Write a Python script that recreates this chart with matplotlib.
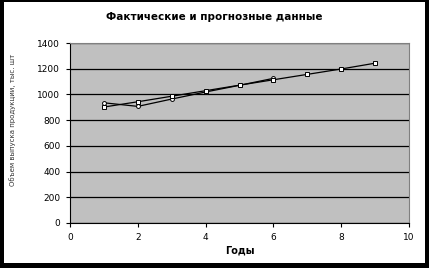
import matplotlib.pyplot as plt
from matplotlib.patches import Rectangle

# data
years_fact = [1, 2, 3, 4, 5, 6]
fact = [935, 907, 964, 1019, 1071, 1125]
years_fc = [1, 2, 3, 4, 5, 6, 7, 8, 9]
forecast = [902, 943, 986, 1029, 1072, 1114, 1156, 1198, 1243]
yticks = [0, 200, 400, 600, 800, 1000, 1200, 1400]
xticks = [0, 2, 4, 6, 8, 10]

W, H = 429, 268
fig = plt.figure(figsize=(W / 100, H / 100), dpi=100)
fig.patch.set_facecolor('black')
# white chart area inside the black frame
fig.patches.append(Rectangle((4 / W, 5 / H), 421 / W, 261 / H, transform=fig.transFigure,
                             facecolor='white', edgecolor='none', zorder=-5))

ax = fig.add_axes([70 / W, 1 - 223 / H, 339 / W, 180 / H])
ax.set_zorder(1)
ax.set_facecolor('#c0c0c0')
ax.set_axisbelow(True)
ax.yaxis.grid(True, color='black', lw=0.9)

ax.plot(years_fact, fact, '-', color='black', lw=0.9, marker='o', ms=2.8,
        mfc='white', mec='black', mew=0.7, zorder=3)
ax.plot(years_fc, forecast, '-', color='black', lw=0.9, marker='s', ms=2.6,
        mfc='white', mec='black', mew=0.7, zorder=3)

ax.set_xlim(0, 10)
ax.set_ylim(0, 1400)
ax.set_xticks(xticks)
ax.set_yticks(yticks)
ax.tick_params(labelsize=6.5, length=3, width=0.8, direction='out', pad=4)
for s in ['top', 'right']:
    ax.spines[s].set_color('#808080')
for s in ['left', 'bottom']:
    ax.spines[s].set_color('black')

ax.set_xlabel('Годы', fontsize=7, fontweight='bold', labelpad=3)
fig.text(13 / W, 1 - 120 / H, 'Объем выпуска продукции, тыс. шт', rotation=90,
         fontsize=5, color='#333333', ha='center', va='center', zorder=2)
fig.text(0.5, 1 - 17 / H, 'Фактические и прогнозные данные', fontsize=7.5,
         fontweight='bold', ha='center', va='center', zorder=2)

fig.savefig('out.png', dpi=100, facecolor=fig.get_facecolor())
